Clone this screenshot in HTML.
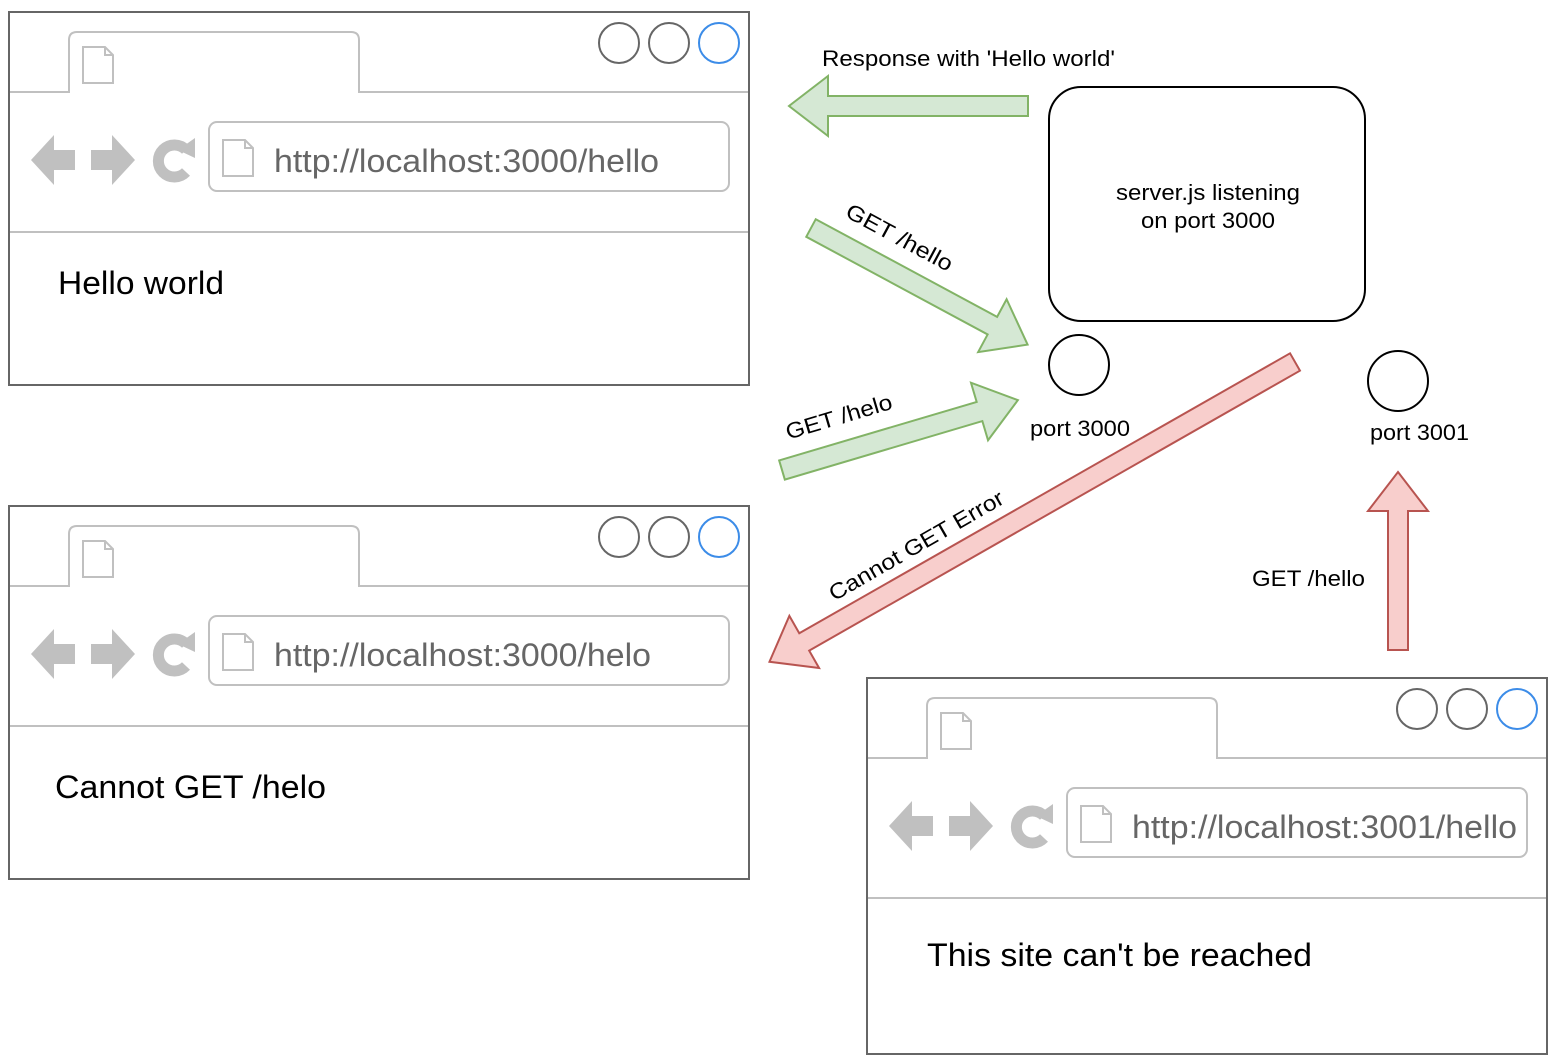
<!DOCTYPE html>
<html><head><meta charset="utf-8"><style>html,body{margin:0;padding:0;background:#fff}svg{display:block}text{font-family:"Liberation Sans",Arial,sans-serif}</style></head>
<body>
<svg width="1556" height="1064" viewBox="0 0 1556 1064" xmlns="http://www.w3.org/2000/svg">
<defs>
<g id="nav">
  <polygon points="31,160 54,135 54,150 75,150 75,170 54,170 54,185" fill="#c0c0c0"/>
  <polygon points="135,160 112,135 112,150 91,150 91,170 112,170 112,185" fill="#c0c0c0"/>
  <path d="M186,150 A16,16 0 1 0 186,172" fill="none" stroke="#c0c0c0" stroke-width="11"/>
  <polygon points="178,150 195,138 195,158" fill="#c0c0c0"/>
</g>
<g id="doc">
  <path d="M0,0 H22 L30,8 V36 H0 Z M22,0 V8 H30" fill="#fff" stroke="#c0c0c0" stroke-width="2"/>
</g>
</defs>

<!-- Browser 1 -->
<g>
  <rect x="9" y="12" width="740" height="373" fill="#fff" stroke="#666" stroke-width="2"/>
  <path d="M10,92 H69 V40 Q69,32 77,32 H351 Q359,32 359,40 V92 H748" fill="none" stroke="#c0c0c0" stroke-width="2"/>
  <line x1="10" y1="232" x2="748" y2="232" stroke="#c0c0c0" stroke-width="2"/>
  <circle cx="619" cy="43" r="20" fill="none" stroke="#666" stroke-width="2"/>
  <circle cx="669" cy="43" r="20" fill="none" stroke="#666" stroke-width="2"/>
  <circle cx="719" cy="43" r="20" fill="none" stroke="#3c8ce8" stroke-width="2"/>
  <use href="#doc" x="83" y="47"/>
  <use href="#nav"/>
  <rect x="209" y="122" width="520" height="69" rx="8" fill="#fff" stroke="#c0c0c0" stroke-width="2"/>
  <use href="#doc" x="223" y="140"/>
  <text x="274" y="172" font-size="32" fill="#666" textLength="385" lengthAdjust="spacingAndGlyphs">http://localhost:3000/hello</text>
  <text x="58" y="294" font-size="32" fill="#000" textLength="166" lengthAdjust="spacingAndGlyphs">Hello world</text>
</g>

<!-- Browser 2 -->
<g transform="translate(0,494)">
  <rect x="9" y="12" width="740" height="373" fill="#fff" stroke="#666" stroke-width="2"/>
  <path d="M10,92 H69 V40 Q69,32 77,32 H351 Q359,32 359,40 V92 H748" fill="none" stroke="#c0c0c0" stroke-width="2"/>
  <line x1="10" y1="232" x2="748" y2="232" stroke="#c0c0c0" stroke-width="2"/>
  <circle cx="619" cy="43" r="20" fill="none" stroke="#666" stroke-width="2"/>
  <circle cx="669" cy="43" r="20" fill="none" stroke="#666" stroke-width="2"/>
  <circle cx="719" cy="43" r="20" fill="none" stroke="#3c8ce8" stroke-width="2"/>
  <use href="#doc" x="83" y="47"/>
  <use href="#nav"/>
  <rect x="209" y="122" width="520" height="69" rx="8" fill="#fff" stroke="#c0c0c0" stroke-width="2"/>
  <use href="#doc" x="223" y="140"/>
  <text x="274" y="172" font-size="32" fill="#666" textLength="377" lengthAdjust="spacingAndGlyphs">http://localhost:3000/helo</text>
  <text x="55" y="304" font-size="32" fill="#000" textLength="271" lengthAdjust="spacingAndGlyphs">Cannot GET /helo</text>
</g>

<!-- Browser 3 -->
<g transform="translate(858,666)">
  <rect x="9" y="12" width="680" height="376" fill="#fff" stroke="#666" stroke-width="2"/>
  <path d="M10,92 H69 V40 Q69,32 77,32 H351 Q359,32 359,40 V92 H688" fill="none" stroke="#c0c0c0" stroke-width="2"/>
  <line x1="10" y1="232" x2="688" y2="232" stroke="#c0c0c0" stroke-width="2"/>
  <circle cx="559" cy="43" r="20" fill="none" stroke="#666" stroke-width="2"/>
  <circle cx="609" cy="43" r="20" fill="none" stroke="#666" stroke-width="2"/>
  <circle cx="659" cy="43" r="20" fill="none" stroke="#3c8ce8" stroke-width="2"/>
  <use href="#doc" x="83" y="47"/>
  <use href="#nav"/>
  <rect x="209" y="122" width="460" height="69" rx="8" fill="#fff" stroke="#c0c0c0" stroke-width="2"/>
  <use href="#doc" x="223" y="140"/>
  <text x="274" y="172" font-size="32" fill="#666" textLength="385" lengthAdjust="spacingAndGlyphs">http://localhost:3001/hello</text>
  <text x="69" y="300" font-size="32" fill="#000" textLength="385" lengthAdjust="spacingAndGlyphs">This site can't be reached</text>
</g>

<!-- Server -->
<rect x="1049" y="87" width="316" height="234" rx="32" fill="#fff" stroke="#000" stroke-width="2"/>
<text x="1116" y="200" font-size="22" textLength="184" lengthAdjust="spacingAndGlyphs">server.js listening</text>
<text x="1141" y="228" font-size="22" textLength="134" lengthAdjust="spacingAndGlyphs">on port 3000</text>
<circle cx="1079" cy="365" r="30" fill="#fff" stroke="#000" stroke-width="2"/>
<text x="1030" y="436" font-size="22" textLength="100" lengthAdjust="spacingAndGlyphs">port 3000</text>
<circle cx="1398" cy="381" r="30" fill="#fff" stroke="#000" stroke-width="2"/>
<text x="1370" y="440" font-size="22" textLength="99" lengthAdjust="spacingAndGlyphs">port 3001</text>

<!-- Arrows -->
<polygon points="1028,96 828,96 828,76 789,106 828,136 828,116 1028,116" fill="#d5e8d4" stroke="#82b366" stroke-width="2"/>
<text x="822" y="66" font-size="22" textLength="293" lengthAdjust="spacingAndGlyphs">Response with 'Hello world'</text>

<g transform="translate(811,228) rotate(28.3)">
  <polygon points="0,-10 206,-10 206,-30 246,0 206,30 206,10 0,10" fill="#d5e8d4" stroke="#82b366" stroke-width="2"/>
</g>
<text transform="translate(896,244) rotate(28.3)" font-size="22" text-anchor="middle" textLength="118" lengthAdjust="spacingAndGlyphs">GET /hello</text>

<g transform="translate(782,470) rotate(-16.5)">
  <polygon points="0,-10 206,-10 206,-30 246,0 206,30 206,10 0,10" fill="#d5e8d4" stroke="#82b366" stroke-width="2"/>
</g>
<text transform="translate(841,424) rotate(-16.5)" font-size="22" text-anchor="middle" textLength="110" lengthAdjust="spacingAndGlyphs">GET /helo</text>

<g transform="translate(1295,362) rotate(150.3)">
  <polygon points="0,-10 565,-10 565,-30 605,0 565,30 565,10 0,10" fill="#f8cecc" stroke="#b85450" stroke-width="2"/>
</g>
<text transform="translate(920,552) rotate(-30)" font-size="22" text-anchor="middle" textLength="198" lengthAdjust="spacingAndGlyphs">Cannot GET Error</text>

<polygon points="1388,650 1388,511 1368,511 1398,472 1428,511 1408,511 1408,650" fill="#f8cecc" stroke="#b85450" stroke-width="2"/>
<text x="1252" y="586" font-size="22" textLength="113" lengthAdjust="spacingAndGlyphs">GET /hello</text>
</svg>
</body></html>
